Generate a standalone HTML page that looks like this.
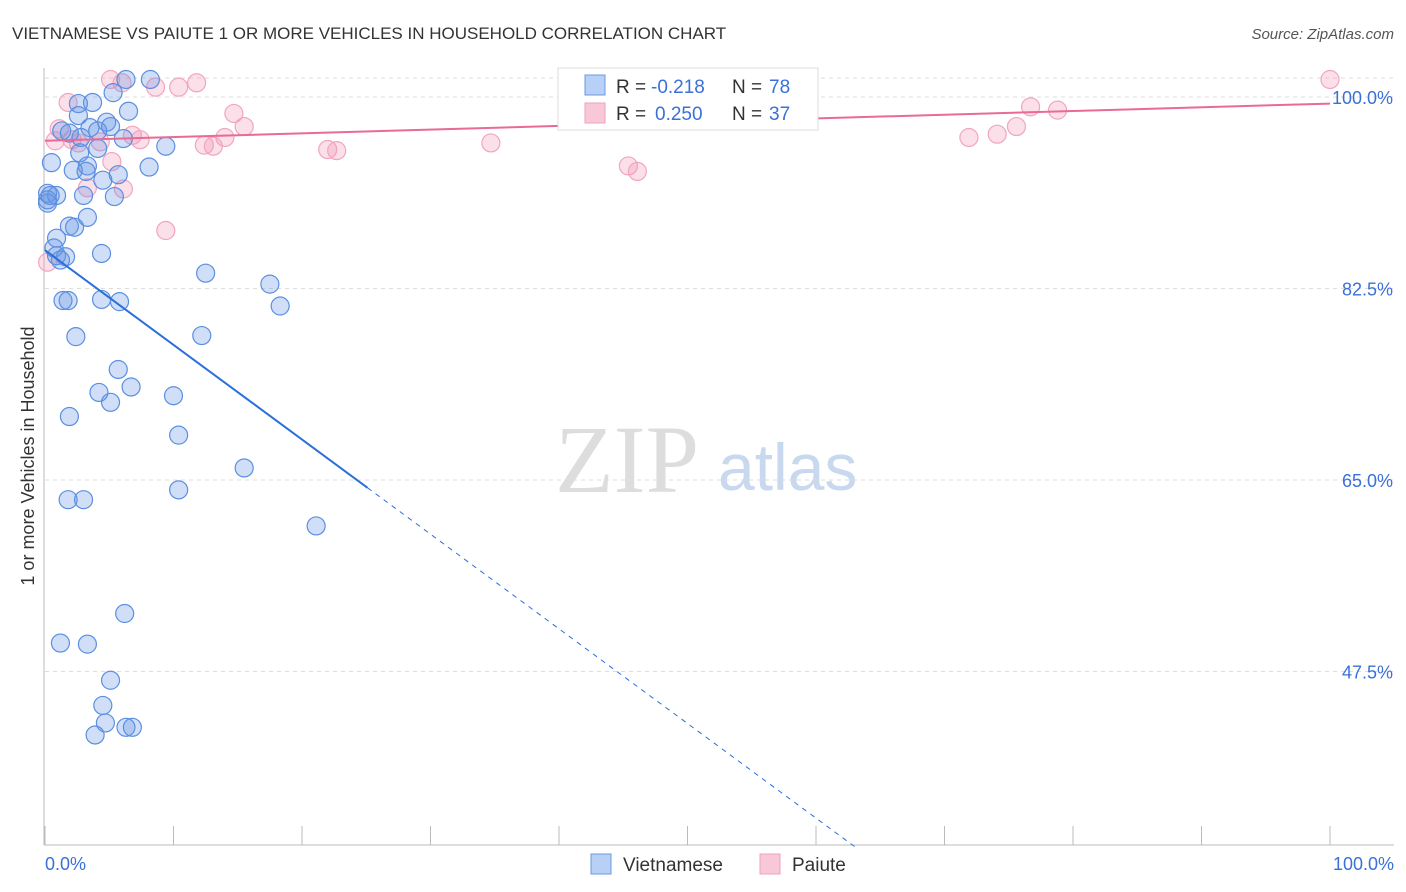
<!DOCTYPE html>
<html><head><meta charset="utf-8"><style>
body{margin:0;background:#fff;font-family:"Liberation Sans",sans-serif;}
svg{display:block}
</style></head><body>
<svg id="chart" width="1406" height="892">
<text x="12" y="39" font-size="17" fill="#333">VIETNAMESE VS PAIUTE 1 OR MORE VEHICLES IN HOUSEHOLD CORRELATION CHART</text>
<text x="1394" y="39" font-size="15" fill="#555" font-style="italic" text-anchor="end">Source: ZipAtlas.com</text>
<text x="34" y="456" font-size="18" fill="#333" text-anchor="middle" transform="rotate(-90 34 456)">1 or more Vehicles in Household</text>
<text x="555" y="492" font-size="96" fill="#ddd" font-family="Liberation Serif,serif">ZIP</text>
<text x="718" y="490" font-size="66" fill="#c8d8ef">atlas</text>
<g id="grid"></g><g id="axes"></g><g id="marks"></g>
<g>
<rect x="558" y="68" width="260" height="62" fill="#fff" stroke="#ddd"/>
<rect x="585" y="75" width="20" height="20" fill="#b8d0f5" stroke="#6a9ae0"/>
<text x="616" y="93" font-size="19" fill="#333">R =</text>
<text x="651" y="93" font-size="19" fill="#3a70d8">-0.218</text>
<text x="732" y="93" font-size="19" fill="#333">N =</text>
<text x="769" y="93" font-size="19" fill="#3a70d8">78</text>
<rect x="585" y="103" width="20" height="20" fill="#f8c8d8" stroke="#f0a0bb"/>
<text x="616" y="120" font-size="19" fill="#333">R =</text>
<text x="655" y="120" font-size="19" fill="#3a70d8">0.250</text>
<text x="732" y="120" font-size="19" fill="#333">N =</text>
<text x="769" y="120" font-size="19" fill="#3a70d8">37</text>
</g>
<g>
<rect x="591" y="854" width="20" height="20" fill="#b8d0f5" stroke="#6a9ae0"/>
<text x="623" y="871" font-size="19" fill="#333">Vietnamese</text>
<rect x="760" y="854" width="20" height="20" fill="#f8c8d8" stroke="#f0a0bb"/>
<text x="792" y="871" font-size="19" fill="#333">Paiute</text>
</g>
</svg>
<script>
const yTicks=[100,82.5,65,47.5];
const yTickLabels=["100.0%","82.5%","65.0%","47.5%"];
const blueX=[6.3,8.2,5.3,3.7,2.6,6.5,2.6,4.8,5.1,3.5,1.3,1.9,4.1,2.8,6.1,9.4,4.1,2.7,0.5,3.3,8.1,2.2,3.2,5.7,4.5,0.2,0.9,3.0,5.4,0.2,3.3,1.9,2.3,0.9,0.7,4.4,0.9,1.6,1.2,12.5,17.5,1.4,1.8,4.4,5.8,18.3,2.4,12.2,5.7,6.7,4.2,5.1,10.0,1.9,10.4,15.5,1.8,3.0,10.4,21.1,6.2,1.2,3.3,5.1,4.5,4.7,6.3,6.8,3.9,0.2,0.4];
const blueY=[101.6,101.6,100.4,99.5,99.4,98.7,98.3,97.7,97.3,97.2,96.9,96.7,96.9,96.3,96.2,95.5,95.3,94.9,94.0,93.7,93.6,93.3,93.2,92.9,92.4,91.2,91.0,91.0,90.9,90.3,89.0,88.2,88.1,87.1,86.2,85.7,85.5,85.4,85.1,83.9,82.9,81.4,81.4,81.5,81.3,80.9,78.1,78.2,75.1,73.5,73.0,72.1,72.7,70.8,69.1,66.1,63.2,63.2,64.1,60.8,52.8,50.1,50.0,46.7,44.4,42.8,42.4,42.4,41.7,90.6,91.0];
const pinkX=[5.1,6.0,100,11.8,8.6,10.4,1.8,76.7,78.8,14.7,15.5,1.1,75.6,74.1,71.9,14.0,6.8,7.4,2.1,0.8,4.3,12.4,13.1,34.7,22.0,22.7,5.2,45.4,46.1,3.3,6.1,9.4,0.2,2.6,45.4];
const pinkY=[101.6,101.3,101.6,101.3,100.9,100.9,99.5,99.1,98.8,98.5,97.3,97.1,97.3,96.6,96.3,96.3,96.5,96.1,96.1,96.0,95.9,95.6,95.5,95.8,95.2,95.1,94.1,93.7,93.2,91.7,91.6,87.8,84.9,95.8,101.6];
const blueTrend=[86.0,-0.865];
const pinkTrend=[96.0,0.034];
const NS="http://www.w3.org/2000/svg";
const X=v=>45+v*12.85;
const Y=v=>97+(100-v)*191.5/17.5;
function mk(tag,attrs,parent){const e=document.createElementNS(NS,tag);for(const k in attrs)e.setAttribute(k,attrs[k]);document.getElementById(parent).appendChild(e);return e;}
yTicks.forEach((t,i)=>{
 const l=mk('line',{x1:45,x2:1394,y1:Y(t),y2:Y(t),stroke:'#ddd','stroke-dasharray':'4,4'},'grid');
 
 
 const tx=mk('text',{x:1393,y:Y(t)+7,'font-size':18,fill:'#3a70d8','text-anchor':'end'},'axes');
 tx.textContent=yTickLabels[i];
 
 
});
const topGrid=mk('line',{x1:45,x2:1394,y1:78,y2:78,stroke:'#ddd','stroke-dasharray':'4,4'},'grid');


const ya=mk('line',{x1:44,x2:44,y1:68,y2:845,stroke:'#bbb'},'axes');


const xa=mk('line',{x1:44,x2:1394,y1:845,y2:845,stroke:'#bbb'},'axes');


for(let i=0;i<=10;i++){const t=mk('line',{x1:X(i*10),x2:X(i*10),y1:826,y2:845,stroke:'#bbb'},'axes');
 
 }
const xl0=mk('text',{x:45,y:870,'font-size':18,fill:'#3a70d8'},'axes');xl0.textContent='0.0%';


const xl1=mk('text',{x:1394,y:870,'font-size':18,fill:'#3a70d8','text-anchor':'end'},'axes');xl1.textContent='100.0%';


pinkX.forEach((x,i)=>{const c=mk('circle',{cx:X(x),cy:Y(pinkY[i]),r:9,fill:'rgba(242,150,182,0.3)',stroke:'#f2a5bf','stroke-width':1.2},'marks');
 
 });
blueX.forEach((x,i)=>{const c=mk('circle',{cx:X(x),cy:Y(blueY[i]),r:9,fill:'rgba(100,150,230,0.3)',stroke:'#5b8fe0','stroke-width':1.2},'marks');
 
 });
const bf=x=>blueTrend[0]+blueTrend[1]*x;
const b1=mk('line',{x1:X(0),y1:Y(bf(0)),x2:X(25.1),y2:Y(bf(25.1)),stroke:'#2a6fdb','stroke-width':2},'marks');


const b2=mk('line',{x1:X(25.1),y1:Y(bf(25.1)),x2:X(63),y2:Y(bf(63)),stroke:'#2a6fdb','stroke-width':1,'stroke-dasharray':'5,5'},'marks');


const pf=x=>pinkTrend[0]+pinkTrend[1]*x;
const p1=mk('line',{x1:X(0),y1:Y(pf(0)),x2:X(100),y2:Y(pf(100)),stroke:'#e86a95','stroke-width':2},'marks');


</script>
</body></html>
